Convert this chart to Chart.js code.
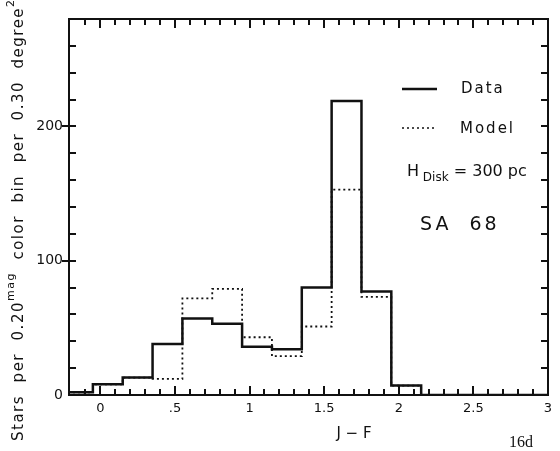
<!DOCTYPE html>
<html>
<head>
<meta charset="utf-8">
<script src="https://cdn.jsdelivr.net/npm/chart.js@4.4.1/dist/chart.umd.min.js"></script>
<style>
html, body { margin: 0; padding: 0; background: #fff; }
#wrap { width: 560px; height: 451px; position: relative; }
</style>
</head>
<body>
<div id="wrap"><canvas id="c"></canvas></div>
<script>
// Bins de 0.20 mag: borde izquierdo de cada bin (el ultimo punto cierra el trazo)
const binEdges = [-0.25, -0.05, 0.15, 0.35, 0.55, 0.75, 0.95, 1.15, 1.35, 1.55, 1.75, 1.95, 2.15, 3.2];
const dataCounts = [2, 8, 13, 38, 57, 53, 36, 34, 80, 219, 77, 7, 0, 0];
const modelCounts = [2, 8, 13, 12, 72, 79, 43, 29, 51, 153, 73, 7, 0, 0];

const xTickValues = [0, 0.5, 1, 1.5, 2, 2.5, 3];
const xTickText = ['0', '.5', '1', '1.5', '2', '2.5', '3'];
const yTickValues = [0, 100, 200];

// marcas menores hacia adentro en los cuatro lados
const xMinorTicks = [-0.1, 0, 0.1, 0.2, 0.3, 0.4, 0.5, 0.6, 0.7, 0.8, 0.9, 1, 1.1, 1.2, 1.3, 1.4, 1.5,
    1.6, 1.7, 1.8, 1.9, 2, 2.1, 2.2, 2.3, 2.4, 2.5, 2.6, 2.7, 2.8, 2.9];
const yMinorTicks = [20, 40, 60, 80, 100, 120, 140, 160, 180, 200, 220, 240, 260];

const INK = '#111';
const FONT = '"DejaVu Sans", sans-serif';

function toPoints(values) {
    return values.map((v, i) => ({ x: binEdges[i], y: v }));
}

function drawRich(ctx, parts, x, y) {
    let cx = x;
    parts.forEach(p => {
        ctx.font = p.size + 'px ' + FONT;
        ctx.fillText(p.t, cx, y + (p.dy || 0));
        cx += ctx.measureText(p.t).width;
    });
}

const framePlugin = {
    id: 'frame',
    afterDraw(chart) {
        const { ctx, chartArea: a } = chart;
        const xs = chart.scales.x;
        const ys = chart.scales.y;
        ctx.save();
        ctx.strokeStyle = INK;
        ctx.fillStyle = INK;

        // marco
        ctx.lineWidth = 2;
        ctx.strokeRect(a.left, a.top, a.right - a.left, a.bottom - a.top);

        // ticks hacia adentro
        xMinorTicks.forEach(v => {
            let px = xs.getPixelForValue(v);
            if (!isFinite(px)) px = a.left + (v - xs.min) / (xs.max - xs.min) * (a.right - a.left);
            px = Math.round(px);
            const len = xTickValues.includes(v) ? 9 : 6;
            ctx.fillRect(px - 1, a.bottom - len, 2, len);
            ctx.fillRect(px - 1, a.top, 2, len);
        });
        yMinorTicks.forEach(v => {
            const py = Math.round(ys.getPixelForValue(v));
            const major = yTickValues.includes(v);
            ctx.fillRect(a.left - (major ? 7 : 0), py - 1, (major ? 14 : 7), 2);
            ctx.fillRect(a.right - 7, py - 1, 7, 2);
        });

        // leyenda
        ctx.lineWidth = 2.5;
        ctx.beginPath();
        ctx.moveTo(402, 89);
        ctx.lineTo(437, 89);
        ctx.stroke();
        ctx.lineWidth = 1.6;
        ctx.setLineDash([2, 3]);
        ctx.beginPath();
        ctx.moveTo(402, 128);
        ctx.lineTo(437, 128);
        ctx.stroke();
        ctx.setLineDash([]);

        ctx.textBaseline = 'middle';
        ctx.textAlign = 'left';
        ctx.letterSpacing = '2px';
        ctx.font = '15px ' + FONT;
        ctx.fillText('Data', 461, 89);
        ctx.fillText('Model', 460, 129);
        ctx.letterSpacing = '0px';
        drawRich(ctx, [
            { t: 'H', size: 16 },
            { t: ' Disk', size: 12, dy: 6 },
            { t: ' = 300 pc', size: 16 }
        ], 407, 172);
        ctx.letterSpacing = '3px';
        ctx.font = '19px ' + FONT;
        ctx.fillText('SA  68', 420, 225);
        ctx.letterSpacing = '0px';

        // titulo eje x
        ctx.textAlign = 'center';
        ctx.font = '15px ' + FONT;
        ctx.fillText('J \u2212 F', 354, 434);
        ctx.font = '16px "Liberation Serif", serif';
        ctx.fillText('16d', 521, 443);

        // titulo eje y (rotado, con superindices)
        ctx.translate(19, 441);
        ctx.rotate(-Math.PI / 2);
        ctx.textAlign = 'left';
        ctx.letterSpacing = '1.5px';
        drawRich(ctx, [
            { t: 'Stars  per  0.20', size: 15 },
            { t: 'mag', size: 11, dy: -8 },
            { t: '  color  bin  per  0.30  degree', size: 15 },
            { t: '2', size: 11, dy: -8 }
        ], 0, 0);
        ctx.restore();
    }
};

new Chart(document.getElementById('c'), {
    type: 'line',
    data: {
        datasets: [
            {
                label: 'Data',
                data: toPoints(dataCounts),
                stepped: 'before',
                borderColor: INK,
                borderWidth: 2.5,
                pointRadius: 0,
                fill: false
            },
            {
                label: 'Model',
                data: toPoints(modelCounts),
                stepped: 'before',
                borderColor: INK,
                borderWidth: 1.8,
                borderDash: [2, 3],
                pointRadius: 0,
                fill: false
            }
        ]
    },
    options: {
        responsive: true,
        maintainAspectRatio: false,
        animation: false,
        layout: { padding: { left: 0, right: 12, top: 19, bottom: 0 } },
        plugins: {
            legend: { display: false },
            tooltip: { enabled: false }
        },
        scales: {
            x: {
                type: 'linear',
                min: -0.21,
                max: 3,
                grid: { display: false, drawTicks: false },
                border: { display: false },
                afterBuildTicks: s => { s.ticks = xTickValues.map(v => ({ value: v })); },
                afterFit: s => { s.height = 56; },
                ticks: {
                    autoSkip: false,
                    maxRotation: 0,
                    padding: 6,
                    color: INK,
                    font: { family: FONT, size: 13 },
                    callback: v => xTickText[xTickValues.indexOf(v)]
                }
            },
            y: {
                min: 0,
                max: 280,
                grid: { display: false, drawTicks: false },
                border: { display: false },
                afterBuildTicks: s => { s.ticks = yTickValues.map(v => ({ value: v })); },
                afterFit: s => { s.width = 69; },
                ticks: {
                    padding: 6,
                    color: INK,
                    font: { family: FONT, size: 14 }
                }
            }
        }
    },
    plugins: [framePlugin]
});
</script>
</body>
</html>
